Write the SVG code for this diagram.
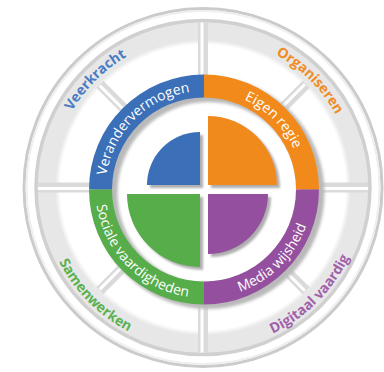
<svg xmlns="http://www.w3.org/2000/svg" width="384" height="372" viewBox="0 0 384 372">
<style>
.ring{font-family:"Open Sans","Noto Sans","DejaVu Sans",sans-serif;font-size:14px;fill:#ffffff;}
.outer{font-family:"Open Sans","Noto Sans","DejaVu Sans",sans-serif;font-size:14px;font-weight:700;}
.spoke{stroke:#dadada;stroke-width:10;}
.hl{stroke:#ffffff;stroke-width:3;}
</style>
<defs>
<radialGradient id="band" gradientUnits="userSpaceOnUse" cx="203" cy="187.5" r="167">
<stop offset="0" stop-color="#ffffff"/>
<stop offset="0.855" stop-color="#ffffff"/>
<stop offset="0.885" stop-color="#e7e7e7"/>
<stop offset="1" stop-color="#e7e7e7"/>
</radialGradient>
<filter id="blur" x="-10%" y="-10%" width="120%" height="120%"><feGaussianBlur stdDeviation="1.5"/></filter>
<filter id="qs" x="-20%" y="-20%" width="140%" height="140%"><feDropShadow dx="3" dy="3" stdDeviation="1.2" flood-color="#8c8c8c" flood-opacity="0.7"/></filter>
<path id="pTL" d="M123.31,246.00 A98.5,98.5 0 0 1 260.50,108.81"/>
<path id="pTR" d="M147.50,108.81 A98.5,98.5 0 0 1 284.69,246.00"/>
<path id="pBL" d="M115.12,127.27 A108.5,108.5 0 0 0 266.23,278.38"/>
<path id="pBR" d="M141.77,278.38 A108.5,108.5 0 0 0 292.88,127.27"/>
<path id="oTL" d="M78.90,274.40 A151.5,151.5 0 0 1 289.90,63.40"/>
<path id="oTR" d="M116.10,63.40 A151.5,151.5 0 0 1 327.10,274.40"/>
<path id="oBL" d="M70.30,94.58 A162,162 0 0 0 295.92,320.20"/>
<path id="oBR" d="M110.08,320.20 A162,162 0 0 0 335.70,94.58"/>
</defs>
<rect width="384" height="372" fill="#ffffff"/>
<g id="rim">
<circle cx="203" cy="187.5" r="179" fill="#ffffff" stroke="#cbcbcb" stroke-width="3"/>
<circle cx="203" cy="187.5" r="176.5" fill="none" stroke="#efefef" stroke-width="2"/>
<circle cx="203" cy="187.5" r="167" fill="url(#band)"/>
<circle cx="203" cy="187.5" r="167" fill="none" stroke="#d0d0d0" stroke-width="3.5"/>
</g>
<g id="spokes">
<g transform="translate(203,187.5)">
<line class="spoke" x1="0" y1="-112" x2="0" y2="-165"/>
<line class="spoke" x1="0" y1="112" x2="0" y2="165"/>
<line class="spoke" x1="-112" y1="0" x2="-165" y2="0"/>
<line class="spoke" x1="112" y1="0" x2="165" y2="0"/>
<line class="hl" x1="-1" y1="-112" x2="-1" y2="-165"/>
<line class="hl" x1="-1" y1="112" x2="-1" y2="165"/>
<line class="hl" x1="-112" y1="1" x2="-165" y2="1"/>
<line class="hl" x1="112" y1="1" x2="165" y2="1"/>
<g transform="rotate(45)">
<line class="spoke" x1="0" y1="-112" x2="0" y2="-146"/>
<line class="spoke" x1="0" y1="112" x2="0" y2="146"/>
<line class="spoke" x1="-112" y1="0" x2="-146" y2="0"/>
<line class="spoke" x1="112" y1="0" x2="146" y2="0"/>
<line class="hl" x1="-1" y1="-112" x2="-1" y2="-145"/>
<line class="hl" x1="-1" y1="112" x2="-1" y2="145"/>
<line class="hl" x1="-112" y1="1" x2="-145" y2="1"/>
<line class="hl" x1="112" y1="1" x2="145" y2="1"/>
</g>
</g>
</g>
<g id="ring-shadow">
<circle cx="208.5" cy="193" r="103.5" fill="none" stroke="#b9b9b9" stroke-width="25" filter="url(#blur)"/>
</g>
<g id="verandervermogen">
<path d="M89,189.5 A115,115 0 0 1 204,74.5 L204,97.5 A92,92 0 0 0 112,189.5 Z" fill="#3b6fb8"/>
<text class="ring"><textPath href="#pTL" startOffset="50%" text-anchor="middle">Verandervermogen</textPath></text>
</g>
<g id="eigen-regie">
<path d="M204,74.5 A115,115 0 0 1 319,189.5 L296,189.5 A92,92 0 0 0 204,97.5 Z" fill="#f18a1b"/>
<text class="ring"><textPath href="#pTR" startOffset="50%" text-anchor="middle">Eigen regie</textPath></text>
</g>
<g id="media-wijsheid">
<path d="M319,189.5 A115,115 0 0 1 204,304.5 L204,281.5 A92,92 0 0 0 296,189.5 Z" fill="#944f9e"/>
<text class="ring"><textPath href="#pBR" startOffset="50%" text-anchor="middle">Media wijsheid</textPath></text>
</g>
<g id="sociale-vaardigheden">
<path d="M204,304.5 A115,115 0 0 1 89,189.5 L112,189.5 A92,92 0 0 0 204,281.5 Z" fill="#56ad49"/>
<text class="ring"><textPath href="#pBL" startOffset="50%" text-anchor="middle">Sociale vaardigheden</textPath></text>
</g>
<g id="quadrants" filter="url(#qs)">
<path id="q-blue" d="M200,185 L147,185 A53,53 0 0 1 200,132 Z" fill="#3b6fb8"/>
<path id="q-orange" d="M208,185 L208,116 A69,69 0 0 1 277,185 Z" fill="#f18a1b"/>
<path id="q-green" d="M200,194 L200,267 A73,73 0 0 1 127,194 Z" fill="#56ad49"/>
<path id="q-purple" d="M208,194 L268,194 A60,60 0 0 1 208,254 Z" fill="#944f9e"/>
</g>
<g id="veerkracht">
<text class="outer" fill="#4a7cc3"><textPath href="#oTL" startOffset="50%" text-anchor="middle">Veerkracht</textPath></text>
</g>
<g id="organiseren">
<text class="outer" fill="#f08c26"><textPath href="#oTR" startOffset="50%" text-anchor="middle">Organiseren</textPath></text>
</g>
<g id="samenwerken">
<text class="outer" fill="#5bb14f"><textPath href="#oBL" startOffset="50%" text-anchor="middle">Samenwerken</textPath></text>
</g>
<g id="digitaal-vaardig">
<text class="outer" fill="#a061a9"><textPath href="#oBR" startOffset="50%" text-anchor="middle">Digitaal vaardig</textPath></text>
</g>
</svg>
